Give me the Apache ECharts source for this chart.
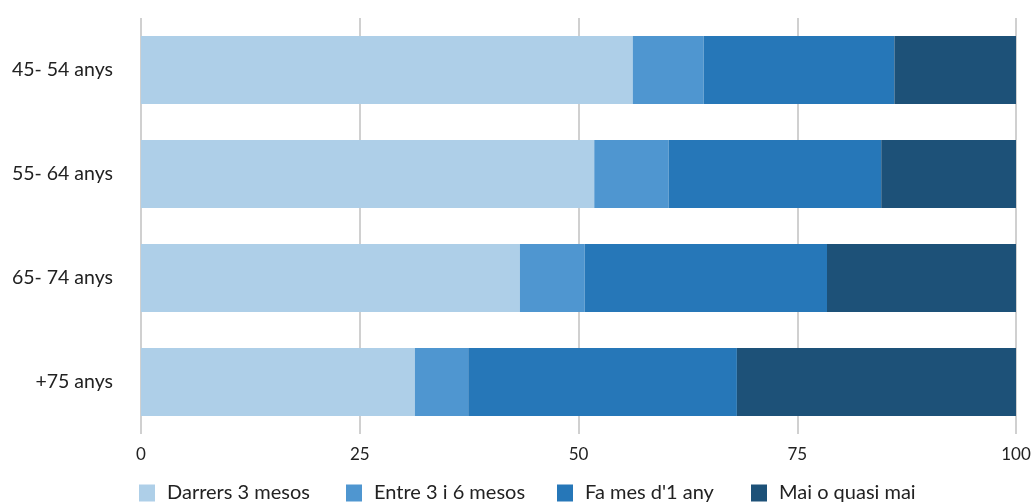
<!DOCTYPE html>
<html><head><meta charset="utf-8">
<script src="https://cdn.jsdelivr.net/npm/echarts@6/dist/echarts.min.js"></script>
<style>html,body{margin:0;padding:0;background:#fff}#c{width:1036px;height:503px}</style>
</head><body><div id="c"></div>
<script>
const categories = ['45- 54 anys', '55- 64 anys', '65- 74 anys', '+75 anys'];
const seriesNames = ['Darrers 3 mesos', 'Entre 3 i 6 mesos', "Fa mes d'1 any", 'Mai o quasi mai'];
const darrers3 = [56.2, 51.8, 43.3, 31.3];
const entre3i6 = [8.1, 8.5, 7.4, 6.1];
const famesAny = [21.8, 24.3, 27.7, 30.7];
const maiQuasi = [13.9, 15.4, 21.6, 31.9];
const xTicks = [0, 25, 50, 75, 100];
const colors = ['#AECFE8', '#4F96D0', '#2677B8', '#1D5178'];
const values = [darrers3, entre3i6, famesAny, maiQuasi];
const legendLefts = [139, 346, 557, 751];

const chart = echarts.init(document.getElementById('c'));
chart.setOption({
  animation: false,
  color: colors,
  grid: { left: 141, right: 20, top: 18, bottom: 69, containLabel: false },
  legend: seriesNames.map((n, i) => ({
    data: [n], top: 483, left: legendLefts[i], itemWidth: 16, itemHeight: 17, itemGap: 0,
    icon: 'rect', padding: 0,
    textStyle: { fontFamily: 'Lato', fontSize: 20, color: '#222', padding: [0, 0, 0, 7] }
  })),
  xAxis: {
    type: 'value', min: 0, max: 100, interval: 25,
    axisLine: { show: false }, axisTick: { show: false },
    splitLine: { show: true, lineStyle: { color: '#d0d0d0', width: 2 } },
    axisLabel: { fontFamily: 'Lato', fontSize: 17, color: '#222', margin: 12,
      formatter: v => xTicks.includes(v) ? String(v) : '' }
  },
  yAxis: {
    type: 'category', data: categories, inverse: true,
    axisLine: { show: false }, axisTick: { show: false },
    axisLabel: { fontFamily: 'Lato', fontSize: 19.5, color: '#222', margin: 28 }
  },
  series: seriesNames.map((n, i) => ({
    name: n, type: 'bar', stack: 'total', barWidth: 68, data: values[i],
    itemStyle: { color: colors[i] }
  }))
});
</script></body></html>
